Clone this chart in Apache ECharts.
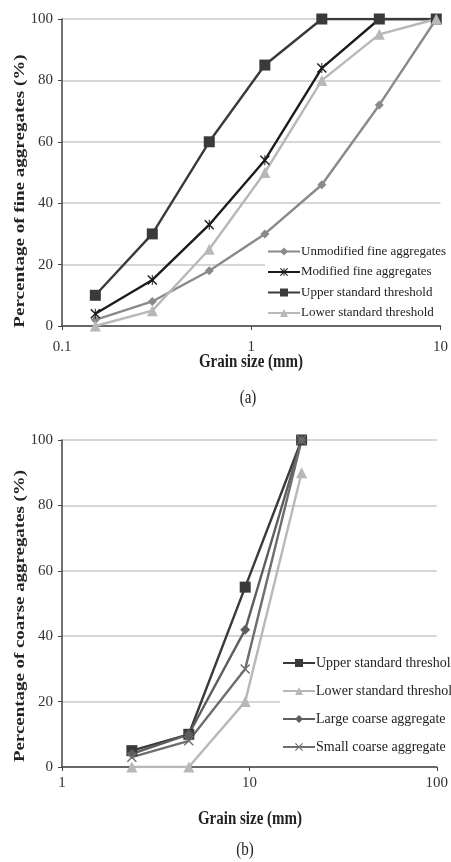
<!DOCTYPE html>
<html>
<head>
<meta charset="utf-8">
<script src="https://cdn.jsdelivr.net/npm/echarts@6/dist/echarts.min.js"></script>
<style>
  html, body { margin: 0; padding: 0; background: #fff; }
  #main { width: 451px; height: 862px; }
</style>
</head>
<body>
<div id="main"></div>
<script>
// sieve sizes (mm)
var fineSieve = [0.15, 0.3, 0.6, 1.18, 2.36, 4.75, 9.5];
var coarseSieve = [2.36, 4.75, 9.5, 19];

// (a) fine aggregates, % passing
var unmodifiedFine = [2, 8, 18, 30, 46, 72, 100];
var modifiedFine = [4, 15, 33, 54, 84, 100, 100];
var fineUpper = [10, 30, 60, 85, 100, 100, 100];
var fineLower = [0, 5, 25, 50, 80, 95, 100];

// (b) coarse aggregates, % passing
var coarseUpper = [5, 10, 55, 100];
var coarseLower = [0, 0, 20, 90];
var largeCoarse = [4, 10, 42, 100];
var smallCoarse = [3, 8, 30, 100];

var yTicks = [0, 20, 40, 60, 80, 100];

var serif = 'Liberation Serif';
var starPath = 'path://M0,2L2,0L10,8L18,0L20,2L12,10L20,18L18,20L10,12L2,20L0,18L8,10Z M9,0L11,0L11,20L9,20Z';
var crossPath = 'path://M0,2L2,0L10,8L18,0L20,2L12,10L20,18L18,20L10,12L2,20L0,18L8,10Z';

function pairs(xs, ys) {
  return xs.map(function (x, i) { return [x, ys[i]]; });
}

function line(name, idx, xs, ys, color, symbol, size) {
  return {
    name: name,
    type: 'line',
    xAxisIndex: idx,
    yAxisIndex: idx,
    data: pairs(xs, ys),
    symbol: symbol,
    symbolSize: size,
    lineStyle: { color: color, width: 2.4 },
    itemStyle: { color: color },
    animation: false
  };
}

function xAxis(idx, min, max, margin) {
  return {
    gridIndex: idx,
    type: 'log',
    logBase: 10,
    min: min,
    max: max,
    axisLine: { show: true, onZero: false, lineStyle: { color: '#444', width: 1.5 } },
    axisTick: { show: true, length: 4, lineStyle: { color: '#444' } },
    minorTick: { show: false },
    splitLine: { show: false },
    axisLabel: {
      margin: margin,
      fontFamily: serif,
      fontSize: 15,
      color: '#333',
      formatter: function (v) { return String(v); }
    }
  };
}

function yAxis(idx) {
  return {
    gridIndex: idx,
    type: 'value',
    min: yTicks[0],
    max: yTicks[yTicks.length - 1],
    interval: 20,
    axisLine: { show: true, lineStyle: { color: '#444', width: 1.5 } },
    axisTick: { show: true, length: 4, lineStyle: { color: '#444' } },
    splitLine: { show: true, lineStyle: { color: '#d6d6d6', width: 2 } },
    axisLabel: { margin: 9, fontFamily: serif, fontSize: 15, color: '#333' }
  };
}

function title(text, x, y, vertical, bold, stretch) {
  return {
    type: 'text',
    x: x,
    y: y,
    rotation: vertical ? Math.PI / 2 : 0,
    scaleX: vertical ? stretch : 1,
    scaleY: vertical ? 1 : stretch,
    style: {
      text: text,
      font: (bold ? 'bold ' : '') + '15px "Liberation Serif"',
      fill: '#222',
      align: 'center',
      verticalAlign: 'middle'
    }
  };
}

var chart = echarts.init(document.getElementById('main'), null, { renderer: 'canvas' });
chart.setOption({
  backgroundColor: '#fff',
  animation: false,
  grid: [
    { left: 62, top: 19, width: 379, height: 307 },
    { left: 62, top: 440, width: 376, height: 327 }
  ],
  xAxis: [xAxis(0, 0.1, 10, 14), xAxis(1, 1, 100, 9)],
  yAxis: [yAxis(0), yAxis(1)],
  legend: [
    {
      orient: 'vertical',
      left: 265,
      top: 243,
      itemWidth: 32,
      itemHeight: 10,
      itemGap: 7.5,
      padding: [2, 4, 2, 2],
      backgroundColor: '#fff',
      textStyle: { fontFamily: serif, fontSize: 13, color: '#222', padding: [0, 0, 0, -4] },
      data: ['Unmodified fine aggregates', 'Modified fine aggregates', 'Upper standard threshold', 'Lower standard threshold']
    },
    {
      orient: 'vertical',
      left: 280,
      top: 654,
      itemWidth: 32,
      itemHeight: 10,
      itemGap: 14,
      padding: [2, 0, 2, 2],
      backgroundColor: '#fff',
      textStyle: { fontFamily: serif, fontSize: 14, color: '#222', padding: [0, 0, 0, -4] },
      data: ['Upper standard threshold', 'Lower standard threshold', 'Large coarse aggregate', 'Small coarse aggregate']
    }
  ],
  series: [
    line('Unmodified fine aggregates', 0, fineSieve, unmodifiedFine, '#8a8a8a', 'diamond', 9),
    line('Modified fine aggregates', 0, fineSieve, modifiedFine, '#1c1c1c', starPath, 10),
    line('Upper standard threshold', 0, fineSieve, fineUpper, '#3a3a3a', 'rect', 11),
    line('Lower standard threshold', 0, fineSieve, fineLower, '#b8b8b8', 'triangle', 11),
    line('Upper standard threshold', 1, coarseSieve, coarseUpper, '#3a3a3a', 'rect', 11),
    line('Lower standard threshold', 1, coarseSieve, coarseLower, '#b8b8b8', 'triangle', 11),
    line('Large coarse aggregate', 1, coarseSieve, largeCoarse, '#5e5e5e', 'diamond', 10),
    line('Small coarse aggregate', 1, coarseSieve, smallCoarse, '#6e6e6e', crossPath, 10)
  ],
  graphic: [
    title('Percentage of fine aggregates (%)', 20, 191, true, true, 1.27),
    title('Grain size (mm)', 251, 362, false, true, 1.2),
    title('(a)', 248, 398, false, false, 1.2),
    title('Percentage of coarse aggregates (%)', 20, 616, true, true, 1.26),
    title('Grain size (mm)', 250, 819, false, true, 1.2),
    title('(b)', 245, 850, false, false, 1.2)
  ]
});
</script>
</body>
</html>
